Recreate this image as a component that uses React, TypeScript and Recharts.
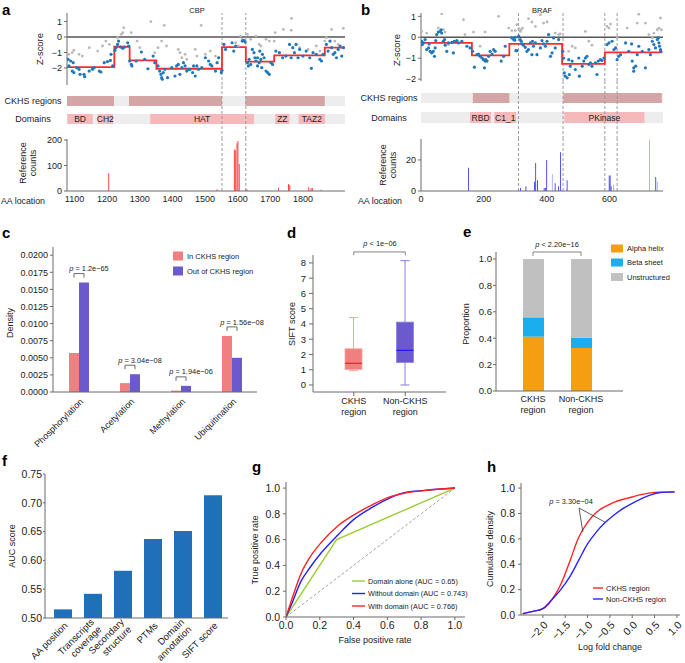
import React from "react";
import {
  ComposedChart,
  BarChart,
  LineChart,
  Scatter,
  Line,
  Bar,
  XAxis,
  YAxis,
  ReferenceLine,
  ReferenceArea,
  Cell,
  LabelList,
} from "recharts";

const FONT = "'Liberation Sans', Arial, Helvetica, sans-serif";
const AXIS = "#6b6b6b";
const INK = "#222";

// ---- a: CBP (AA position, z-score) ----
const cbpMutated: [number, number][] = [
  [1080, -1.44], [1088, -1.55], [1096, -1.66], [1083, -1.87], [1093, -2.2], [1098, -2.3], [1107, -1.98], [1114, -2.09], [1117, -2.41], [1129, -2.41], [1131, -2.56], [1145, -2.2], [1155, -2.09], [1160, -1.98], [1176, -2.2], [1181, -2.26], [1191, -1.66], [1201, -1.59], [1210, -1.51], [1212, -1.12], [1217, -1.87],
  [1224, -0.86], [1227, -0.69], [1232, -0.48], [1235, -0.26], [1241, -0.65], [1248, -0.73], [1253, -0.65], [1263, -0.37], [1266, -0.58],
  [1269, -1.55], [1274, -1.77], [1276, -1.87], [1289, -1.55], [1305, -0.97], [1315, -1.44], [1325, -2.05], [1341, -1.23], [1346, -1.66],
  [1356, -1.87], [1361, -2.2], [1365, -2.41], [1367, -2.63], [1369, -2.73], [1372, -2.3], [1377, -2.09], [1385, -2.63], [1398, -1.98], [1408, -2.52], [1413, -1.87], [1418, -1.77], [1423, -2.41], [1429, -1.98], [1434, -1.66], [1439, -1.87], [1444, -2.2], [1449, -2.09], [1454, -2.09], [1462, -2.3], [1465, -1.87], [1470, -2.52], [1475, -1.87], [1480, -2.09], [1490, -1.98], [1501, -1.34], [1511, -1.55], [1516, -1.77], [1521, -1.87], [1532, -2.2], [1537, -1.66], [1542, -1.34], [1550, -2.3], [1552, -2.15],
  [1558, -0.48], [1563, -0.8], [1583, -0.37], [1588, -0.91], [1594, -0.58], [1614, -0.26], [1619, -0.22], [1623, -0.32],
  [1630, -1.66], [1633, -1.87], [1635, -1.44], [1640, -1.77], [1645, -0.8], [1650, -1.01], [1653, -1.34], [1656, -1.55], [1661, -1.87], [1661, -1.34], [1666, -1.66], [1668, -0.91], [1671, -1.44], [1674, -1.98], [1676, -1.12], [1681, -1.34], [1687, -2.2], [1692, -2.3], [1697, -2.41], [1702, -1.66], [1707, -1.77],
  [1717, -0.91], [1728, -1.01], [1738, -1.34], [1748, -1.23], [1759, -0.48], [1764, -1.34], [1769, -0.69], [1774, -1.01], [1779, -0.48], [1785, -1.34], [1790, -0.8], [1800, -1.23], [1810, -0.91], [1821, -1.34], [1826, -2.02], [1831, -1.01], [1841, -1.12], [1852, -1.44], [1857, -1.55], [1862, -1.12],
  [1872, -0.48], [1877, -0.91], [1883, -0.26], [1888, -0.69], [1893, -1.12], [1898, -1.01], [1903, -1.34], [1908, -0.8], [1914, -0.58], [1919, -1.23], [1924, -0.69],
];
const cbpOther: [number, number][] = [
  [1083, -1.12], [1093, -1.01], [1098, -0.86], [1114, -1.12], [1124, -1.23], [1145, -0.69], [1171, -0.91], [1186, -0.58], [1196, -0.26], [1207, -0.48], [1232, -0.05], [1243, 0.17], [1248, 0.28], [1251, 0.6], [1274, 0.28], [1292, -0.26], [1300, -0.69], [1334, 0.99], [1346, -1.01], [1356, -0.69], [1367, -0.26], [1375, 0.75], [1382, -0.58], [1418, -0.8], [1423, -1.01], [1429, -1.34], [1439, -1.12], [1444, -1.44], [1470, -0.8], [1475, -1.23], [1488, 0.75], [1501, -1.12], [1516, -0.91], [1532, -1.23], [1542, -1.34], [1550, -2.2],
  [1594, -0.37], [1602, -0.58], [1609, 0.06], [1614, -0.15], [1630, 0.17], [1640, -0.15], [1656, 0.06], [1666, -0.48], [1671, -0.58], [1687, -0.15], [1697, -0.26], [1712, -0.26], [1715, 0.28], [1740, 0.49], [1765, 1.2], [1764, 0.43], [1779, -0.48], [1790, -0.69], [1816, -0.8], [1841, -0.58], [1852, -0.91], [1867, -0.26], [1872, -0.05], [1883, -0.26], [1888, 0.49], [1898, -0.26], [1908, -0.48], [1924, 0.56],
];
const cbpStepStart = [1077, 1222, 1269, 1351, 1552, 1625, 1712, 1867, 1929];
const cbpStepLevel = [-1.94, -0.63, -1.51, -2.05, -0.65, -1.59, -1.19, -0.69, -0.69];
const cbpCkhs: [number, number][] = [[1077, 1221], [1267, 1552], [1624, 1867]];
const cbpDomainNames = ["BD", "CH2", "HAT", "ZZ", "TAZ2"];
const cbpDomainSpans: [number, number][] = [[1078, 1156], [1171, 1218], [1332, 1650], [1715, 1759], [1787, 1868]];
const cbpBoundaries = [1552, 1625];
const cbpCounts: [number, number][] = [
  [1205, 70], [1537, 7], [1590, 163], [1593, 160], [1598, 187], [1601, 196], [1605, 106], [1626, 8], [1629, 5], [1725, 13], [1756, 27], [1760, 24], [1818, 15], [1825, 12], [1829, 12], [1856, 5],
];
const cbpTicks = [1100, 1200, 1300, 1400, 1500, 1600, 1700, 1800];

// ---- b: BRAF ----
const brafMutated: [number, number][] = [
  [2, -0.19], [4, -0.35], [8, -0.27], [13, -0.11], [18, -0.59], [24, -0.51], [26, -0.32], [29, -0.67], [34, -0.75], [39, -0.67], [43, -0.91], [45, -0.51], [47, -0.16], [50, 0.13], [55, 0.25], [61, 0.28], [64, 0.36], [66, 0.2], [71, -0.19], [75, -0.11], [77, -0.38], [82, -0.67], [87, -0.27], [98, -0.24], [103, -0.75], [106, -0.19], [114, -0.16], [119, -0.27], [130, -0.19], [146, -0.43], [156, -0.51],
  [164, -0.67], [170, -1.43], [178, -0.83], [183, -0.8], [188, -0.91], [194, -0.99], [199, -1.07], [202, -1.46], [204, -1.14], [206, -1.07], [210, -1.14], [215, -0.91], [220, -0.67], [226, -0.8], [231, -0.59], [236, -0.67], [255, -1.14], [263, -0.91], [268, -0.43],
  [289, -0.03], [295, -0.11], [298, -0.14], [300, 0.0], [302, -0.64], [305, -0.64], [311, 0.05], [316, -0.11], [319, -0.19], [321, -0.32], [326, -0.38], [332, -0.48], [337, -0.67], [342, -0.59], [348, -0.27], [353, -0.83], [355, -0.19], [358, -0.43], [364, -0.27], [369, -0.83], [380, -0.51], [385, -0.16], [390, -0.32], [396, -0.43], [401, -0.19], [406, 0.13], [412, -0.91], [417, -0.75], [422, -0.03], [427, -0.51], [438, -0.11],
  [451, -0.67], [454, -0.99], [456, -1.7], [459, -1.86], [465, -1.94], [470, -1.07], [472, -1.78], [475, -1.38], [481, -1.14], [491, -1.54], [502, -0.99], [504, -1.86], [513, -1.38], [518, -1.14], [523, -0.99], [528, -0.91], [534, -1.3], [539, -1.22], [544, -1.38], [555, -1.22], [560, -1.78], [564, -1.14], [571, -1.07], [576, -1.11], [582, -0.99],
  [592, -0.35], [598, -0.27], [608, -0.19], [614, -0.59], [619, -0.51], [624, -1.07], [629, -0.91], [635, -0.83], [651, -0.27], [661, -0.67], [670, -0.32], [672, -1.14], [677, -1.46], [677, -1.62], [683, -1.38], [688, -0.83], [693, -0.43], [704, -0.67], [714, -1.46], [725, -0.59], [730, -0.83], [736, -0.19], [741, -0.35], [746, -0.51], [752, -0.11], [755, -0.03], [757, -0.27], [759, -0.43], [762, -0.59], [763, -0.67],
];
const brafOther: [number, number][] = [
  [2, 0.28], [18, 0.2], [55, 0.44], [66, 1.12], [71, 0.36], [77, 0.25], [87, -0.35], [135, 0.84], [140, 0.13], [167, 0.25], [188, -0.43], [204, 0.25], [247, 1.0], [279, 0.44], [289, 0.32], [300, 0.32], [305, 0.6], [311, 0.41], [316, 0.28], [319, 0.36], [323, 0.44], [342, 0.89], [353, 0.73], [364, 0.52], [380, 1.08], [390, 0.68], [401, 0.73], [406, 0.13], [427, 0.2], [438, 0.13], [443, 0.16], [470, -0.67], [481, -0.43], [491, -0.51], [523, 0.28], [534, -0.19], [544, -0.38], [592, 0.52], [598, 0.44], [603, 0.63], [624, -0.03], [656, 0.44], [688, 0.68], [693, 1.1], [714, 0.68], [725, 0.13], [736, -0.03], [741, 0.2], [752, 0.36], [757, 0.44], [762, 0.92], [765, 0.36],
];
const brafStepStart = [0, 162, 281, 449, 585, 768];
const brafStepLevel = [-0.27, -0.87, -0.32, -1.27, -0.72, -0.72];
const brafCkhs: [number, number][] = [[165, 281], [453, 766]];
const brafDomainNames = ["RBD", "C1_1", "PKinase"];
const brafDomainSpans: [number, number][] = [[156, 223], [233, 303], [456, 711]];
const brafBoundaries = [310, 452, 585, 624];
const brafCounts: [number, number][] = [
  [151, 15], [317, 2], [334, 3], [361, 6], [365, 18], [371, 7], [392, 2], [396, 2], [400, 20], [418, 11], [427, 5], [438, 3], [444, 25], [465, 7], [599, 10], [602, 10], [605, 3], [613, 4], [727, 33], [747, 9], [752, 6],
];
const brafLightSites = [418, 613, 727, 752];
const brafTicks = [0, 200, 400, 600];

// ---- c: PTM density ----
const ptmTypes = ["Phosphorylation", "Acetylation", "Methylation", "Ubiquitination"];
const ptmIn = [0.0057, 0.0013, 0.0002, 0.0082];
const ptmOut = [0.016, 0.0026, 0.0009, 0.005];
const ptmP = ["1.2e\u221265", "3.04e\u221208", "1.94e\u221206", "1.56e\u221208"];

// ---- d: SIFT box plot ----
const regionGroups = ["CKHS region", "Non-CKHS region"];
const siftLow = [0.94, 0];
const siftQ1 = [1.02, 1.48];
const siftMedian = [1.42, 2.27];
const siftQ3 = [2.37, 4.12];
const siftHigh = [4.42, 8.15];

// ---- e: secondary structure ----
const alphaHelix = [0.412, 0.326];
const betaSheet = [0.146, 0.078];
const unstructured = [0.442, 0.596];

// ---- f: AUC per feature ----
const featureNames = ["AA position", "Transcripts\ncoverage", "Secondary\nstructure", "PTMs", "Domain\nannotation", "SIFT score"];
const featureAuc = [0.515, 0.542, 0.582, 0.637, 0.651, 0.713];

// ---- g: ROC ----
const fprModel = [0, 0.03, 0.09, 0.14, 0.21, 0.31, 0.4, 0.51, 0.61, 0.7, 0.82, 1];
const tprWithDomain = [0, 0.12, 0.34, 0.46, 0.58, 0.71, 0.79, 0.87, 0.93, 0.96, 0.98, 1];
const tprWithoutDomain = [0, 0.09, 0.28, 0.38, 0.5, 0.64, 0.755, 0.85, 0.92, 0.965, 0.982, 1];
const fprDomainOnly = [0, 0.3, 1];
const tprDomainOnly = [0, 0.6, 1];

// ---- h: CDF of log fold change ----
const logFc = [-2.45, -2.2, -2.0, -1.8, -1.6, -1.4, -1.2, -1.0, -0.8, -0.6, -0.4, -0.2, 0, 0.2, 0.4, 0.6, 0.95];
const cdfCkhs = [0.01, 0.03, 0.05, 0.12, 0.24, 0.42, 0.61, 0.73, 0.81, 0.855, 0.89, 0.912, 0.93, 0.948, 0.962, 0.968, 0.97];
const cdfNonCkhs = [0.01, 0.03, 0.05, 0.12, 0.2, 0.3, 0.43, 0.56, 0.655, 0.73, 0.79, 0.84, 0.88, 0.915, 0.945, 0.963, 0.97];

const MINUS = "\u2212";
const tk = (size: number) => ({ fontSize: size, fill: INK, fontFamily: FONT });
const num = (d: number) => (v: number) => Number(v).toFixed(d).replace("-", MINUS);
const toPts = (a: [number, number][]) => a.map(([aa, z]) => ({ aa, z }));
const dot = (color: string, r: number) => (p: any) => <circle cx={p.cx} cy={p.cy} r={r} fill={color} />;
const noShape = () => <g />;

const CKHS_DARK = "#d4a5a5";
const ROW_BG = "#ededed";
const DOMAIN_PINK = "#f5b8bb";

function GenePanel({ g }: { g: any }) {
  const margin = { top: 0, right: 2, bottom: 0, left: g.marginLeft };
  const xProps = { type: "number" as const, dataKey: "aa", domain: g.xDomain, allowDataOverflow: true };
  const dashed = g.boundaries.map((b: number) => (
    <ReferenceLine key={b} x={b} stroke="#9a9a9a" strokeDasharray="3 2" strokeWidth={1} />
  ));
  const step = g.stepStart.map((aa: number, i: number) => ({ aa, z: g.stepLevel[i] }));
  const rowH = g.rowBottom - g.zBottom;
  const rowTicks = [(g.ckhsRow[0] + g.ckhsRow[1]) / 2, (g.domainRow[0] + g.domainRow[1]) / 2];
  const rowNames = ["CKHS regions", "Domains"];
  const counts = g.counts.map(([aa, n]: [number, number]) => ({ aa, n }));
  const ends = [{ aa: g.xDomain[0], y: 0 }, { aa: g.xDomain[1], y: 0 }];
  const pad = 8;
  return (
    <>
      <div style={{ position: "absolute", left: g.left, top: 0 }}>
        <ComposedChart width={g.width} height={g.zBottom + pad} margin={{ ...margin, top: 13, bottom: pad }}>
          <XAxis {...xProps} hide />
          <YAxis type="number" domain={g.zDomain} ticks={[-2, -1, 0, 1]} width={g.yWidth} tickSize={3} tickMargin={2}
            interval={0} tick={tk(9)} tickFormatter={num(0)} stroke={AXIS} allowDataOverflow />
          <ReferenceLine y={0} stroke="#555" strokeWidth={1.3} />
          {dashed}
          <Scatter data={toPts(g.other)} dataKey="z" shape={dot("#b8b8b8", 1.4)} isAnimationActive={false} />
          <Scatter data={toPts(g.mutated)} dataKey="z" shape={dot("#2277bb", 1.6)} isAnimationActive={false} />
          <Line data={step} dataKey="z" type="stepAfter" stroke="#ff2b2b" strokeWidth={1.8} dot={false} isAnimationActive={false} />
        </ComposedChart>
      </div>
      <div style={{ position: "absolute", left: g.left, top: g.zBottom }}>
        <ComposedChart width={g.width} height={rowH} data={ends} margin={{ ...margin, left: 0 }}>
          <XAxis {...xProps} hide />
          <YAxis type="number" dataKey="y" domain={[0, rowH]} ticks={rowTicks} width={g.marginLeft + g.yWidth}
            interval={0} axisLine={false} tickLine={false} allowDataOverflow
            tick={(p: any) => (
              <text x={g.rowLabelX} y={p.y} dy="0.35em" textAnchor="middle" {...tk(9)}>
                {rowNames[rowTicks.indexOf(p.payload.value)]}
              </text>
            )} />
          <Scatter data={ends} dataKey="y" shape={noShape} isAnimationActive={false} />
          <ReferenceArea x1={g.xDomain[0]} x2={g.xDomain[1]} y1={g.ckhsRow[0]} y2={g.ckhsRow[1]} fill={ROW_BG} fillOpacity={1} stroke="none" />
          <ReferenceArea x1={g.xDomain[0]} x2={g.xDomain[1]} y1={g.domainRow[0]} y2={g.domainRow[1]} fill={ROW_BG} fillOpacity={1} stroke="none" />
          {g.ckhs.map(([s, e]: [number, number]) => (
            <ReferenceArea key={s} x1={s} x2={e} y1={g.ckhsRow[0]} y2={g.ckhsRow[1]} fill={CKHS_DARK} fillOpacity={1} stroke="none" />
          ))}
          {g.domainSpans.map(([s, e]: [number, number], i: number) => (
            <ReferenceArea key={s} x1={s} x2={e} y1={g.domainRow[0]} y2={g.domainRow[1]} fill={DOMAIN_PINK} fillOpacity={1} stroke="none"
              label={{ value: g.domainNames[i], position: "center", ...tk(8.5) }} />
          ))}
          {dashed}
        </ComposedChart>
      </div>
      <div style={{ position: "absolute", left: g.left, top: g.rowBottom - pad }}>
        <ComposedChart width={g.width} height={70 + pad} data={counts} margin={{ ...margin, top: pad }}>
          <XAxis {...xProps} ticks={g.xTicks} interval={0} tickLine={false} tickSize={3} tickMargin={2} height={18} tick={tk(9)} stroke={AXIS} />
          <YAxis type="number" domain={g.countDomain} ticks={g.countTicks} interval={0} width={g.yWidth} tickSize={3} tickMargin={2}
            tick={tk(9)} stroke={AXIS} allowDataOverflow />
          {dashed}
          <Bar dataKey="n" barSize={2} isAnimationActive={false}>
            {counts.map((c: any, i: number) => (
              <Cell key={i} fill={g.lightSites.includes(c.aa) ? g.lightColor : g.barColor} />
            ))}
          </Bar>
        </ComposedChart>
      </div>
    </>
  );
}

const cbpGene = {
  left: 0, width: 347, marginLeft: 30, yWidth: 37,
  xDomain: [1077, 1929], xTicks: cbpTicks, zDomain: [-3.1, 1.55], zBottom: 85,
  rowBottom: 139, ckhsRow: [33, 43], domainRow: [15, 25], rowLabelX: 33,
  countDomain: [0, 204], countTicks: [0, 100, 200],
  mutated: cbpMutated, other: cbpOther, stepStart: cbpStepStart, stepLevel: cbpStepLevel,
  ckhs: cbpCkhs, domainNames: cbpDomainNames, domainSpans: cbpDomainSpans, boundaries: cbpBoundaries,
  counts: cbpCounts, lightSites: [], barColor: "#ff2e2e", lightColor: "#ff9090",
};
const brafGene = {
  left: 345, width: 320, marginLeft: 46, yWidth: 30,
  xDomain: [0, 770], xTicks: brafTicks, zDomain: [-2.09, 1.16], zBottom: 81,
  rowBottom: 139, ckhsRow: [36, 46], domainRow: [16, 27], rowLabelX: 44,
  countDomain: [0, 33.5], countTicks: [0, 20],
  mutated: brafMutated, other: brafOther, stepStart: brafStepStart, stepLevel: brafStepLevel,
  ckhs: brafCkhs, domainNames: brafDomainNames, domainSpans: brafDomainSpans, boundaries: brafBoundaries,
  counts: brafCounts, lightSites: brafLightSites, barColor: "#3434ff", lightColor: "#a4a4ff",
};

const RotTick = (props: any) => {
  const { x, y, payload, size, format, ox = 3, oy = 3 } = props;
  const text = format ? format(payload.value) : String(payload.value);
  const lines = text.split("\n");
  const n = lines.length;
  return (
    <g transform={`translate(${x + ox},${y + oy}) rotate(-45)`}>
      <text textAnchor="end" {...tk(size)}>
        {lines.map((l: string, i: number) => (
          <tspan key={i} x={0} y={0} dy={`${0.35 + (i - (n - 1) / 2) * 1.1}em`}>{l}</tspan>
        ))}
      </text>
    </g>
  );
};

const TwoLineTick = (props: any) => {
  const { x, y, payload } = props;
  const lines = String(payload.value).split(" ");
  return (
    <text x={x} y={y} textAnchor="middle" {...tk(9)}>
      {lines.map((l, i) => (
        <tspan key={i} x={x} dy={i === 0 ? "0.71em" : "1.2em"}>{l}</tspan>
      ))}
    </text>
  );
};

const PColor = { inside: "#f08080", outside: "#6a5acd" };

const ptmTable = ptmTypes.map((t, i) => ({ type: t, inside: ptmIn[i], outside: ptmOut[i], p: ptmP[i] }));

const PBracket = (props: any) => {
  const vb = props.viewBox && props.viewBox.width !== undefined ? props.viewBox : props;
  const { x, y, width, height } = vb;
  const row = ptmTable[props.index];
  const base = y + height;
  const inTop = base - (height * row.inside) / row.outside;
  const top = Math.min(y, inTop);
  const by = top - 9;
  const c1 = x - width / 2;
  const c2 = x + width / 2;
  return (
    <g>
      <path d={`M${c1},${by + 4}V${by}H${c2}V${by + 4}`} stroke="#444" strokeWidth={0.8} fill="none" />
      <text x={(c1 + c2) / 2 + 10} y={by - 5} dy="0.35em" textAnchor="middle" {...tk(7.4)}>
        <tspan fontStyle="italic">p</tspan>{" = " + props.value}
      </text>
    </g>
  );
};

const boxTable = regionGroups.map((group, i) => ({
  group, range: [siftLow[i], siftHigh[i]], low: siftLow[i], q1: siftQ1[i], med: siftMedian[i], q3: siftQ3[i], high: siftHigh[i],
}));
const boxStyle = [
  { fill: "#f08080", edge: "#f4a4a4", median: "#ff1a1a" },
  { fill: "#6a5acd", edge: "#8a7ee2", median: "#1a1aff" },
];

const BoxShape = (props: any) => {
  const { x, y, width, height, payload } = props;
  const { low, q1, med, q3, high, group } = payload;
  const s = boxStyle[regionGroups.indexOf(group)];
  const py = (v: number) => y + (height * (high - v)) / (high - low);
  const cx = x + width / 2;
  const cap = 4.5;
  return (
    <g>
      <line x1={cx} x2={cx} y1={py(high)} y2={py(q3)} stroke={s.edge} strokeWidth={1} />
      <line x1={cx} x2={cx} y1={py(q1)} y2={py(low)} stroke={s.edge} strokeWidth={1} />
      <line x1={cx - cap} x2={cx + cap} y1={py(high)} y2={py(high)} stroke={s.edge} strokeWidth={1} />
      <line x1={cx - cap} x2={cx + cap} y1={py(low)} y2={py(low)} stroke={s.edge} strokeWidth={1} />
      <rect x={x} y={py(q3)} width={width} height={py(q1) - py(q3)} fill={s.fill} stroke={s.edge} strokeWidth={0.8} />
      <line x1={x} x2={x + width} y1={py(med)} y2={py(med)} stroke={s.median} strokeWidth={1.2} />
    </g>
  );
};

const ssTable = regionGroups.map((group, i) => ({ group, alpha: alphaHelix[i], beta: betaSheet[i], unstructured: unstructured[i] }));
const SS = { alpha: "#f59e10", beta: "#1aaeee", unstructured: "#c0c0c0" };

const aucTable = featureNames.map((f, i) => ({ feature: f, auc: featureAuc[i] }));

const rocWith = fprModel.map((f, i) => ({ fpr: f, tpr: tprWithDomain[i] }));
const rocWithout = fprModel.map((f, i) => ({ fpr: f, tpr: tprWithoutDomain[i] }));
const rocDomain = fprDomainOnly.map((f, i) => ({ fpr: f, tpr: tprDomainOnly[i] }));
const ROC = { domain: "#9acd32", without: "#2020ff", with: "#ff2020" };

const cdfRed = logFc.map((v, i) => ({ lfc: v, cdf: cdfCkhs[i] }));
const cdfBlue = logFc.map((v, i) => ({ lfc: v, cdf: cdfNonCkhs[i] }));

const Abs = ({ left, top, children }: any) => <div style={{ position: "absolute", left, top }}>{children}</div>;

const VText = ({ x, y, children, size = 9 }: any) => (
  <text transform={`translate(${x},${y}) rotate(-90)`} textAnchor="middle" dy="0.35em" {...tk(size)}>{children}</text>
);
const HText = ({ x, y, children, size = 9, anchor = "middle" }: any) => (
  <text x={x} y={y} dy="0.35em" textAnchor={anchor} {...tk(size)}>{children}</text>
);
const P = () => <tspan fontStyle="italic">p</tspan>;

export default function App() {
  const letters: [string, number, number][] = [
    ["a", 2, 15], ["b", 361, 15], ["c", 2, 238], ["d", 287, 238], ["e", 463, 237], ["f", 2, 466], ["g", 252, 472], ["h", 487, 472],
  ];
  return (
    <div style={{ position: "absolute", left: 0, top: 0, width: 685, height: 663, background: "#fff", fontFamily: FONT, overflow: "hidden" }}>
      <GenePanel g={cbpGene} />
      <GenePanel g={brafGene} />

      {/* c */}
      <Abs left={0} top={240}>
        <BarChart width={290} height={222} data={ptmTable} margin={{ top: 7, right: 33, bottom: 0, left: 0 }} barGap={0} barSize={10}>
          <XAxis dataKey="type" interval={0} tickLine={false} tickSize={3} tickMargin={2} height={70} stroke={AXIS}
            tick={(p: any) => <RotTick {...p} size={9} />} />
          <YAxis domain={[0, 0.0212]} ticks={[0, 0.0025, 0.005, 0.0075, 0.01, 0.0125, 0.015, 0.0175, 0.02]} width={53}
            interval={0} tickSize={3} tickMargin={2} tick={tk(9)} tickFormatter={num(4)} stroke={AXIS} allowDataOverflow />
          <Bar dataKey="inside" fill={PColor.inside} isAnimationActive={false} />
          <Bar dataKey="outside" fill={PColor.outside} isAnimationActive={false}>
            <LabelList dataKey="p" content={(p: any) => <PBracket {...p} />} />
          </Bar>
        </BarChart>
      </Abs>

      {/* d */}
      <Abs left={270} top={240}>
        <ComposedChart width={181} height={182} data={boxTable} margin={{ top: 15, right: 5, bottom: 0, left: 13 }}>
          <XAxis dataKey="group" interval={0} tickSize={4} tickMargin={2} height={30} padding={{ left: 15, right: 15 }}
            stroke={AXIS} tick={(p: any) => <TwoLineTick {...p} />} />
          <YAxis domain={[-0.46, 8.52]} ticks={[0, 1, 2, 3, 4, 5, 6, 7, 8]} interval={0} width={30} tickSize={4} tickMargin={3}
            tick={tk(9.5)} stroke={AXIS} allowDataOverflow />
          <Bar dataKey="range" barSize={17} shape={(p: any) => <BoxShape {...p} />} isAnimationActive={false} />
          <ReferenceLine segment={[{ x: regionGroups[0], y: 8.72 }, { x: regionGroups[1], y: 8.72 }]} stroke="#666" strokeWidth={0.8} ifOverflow="visible" />
          <ReferenceLine segment={[{ x: regionGroups[0], y: 8.5 }, { x: regionGroups[0], y: 8.72 }]} stroke="#666" strokeWidth={0.8} ifOverflow="visible" />
          <ReferenceLine segment={[{ x: regionGroups[1], y: 8.5 }, { x: regionGroups[1], y: 8.72 }]} stroke="#666" strokeWidth={0.8} ifOverflow="visible" />
        </ComposedChart>
      </Abs>

      {/* e */}
      <Abs left={450} top={240}>
        <BarChart width={175} height={181} data={ssTable} margin={{ top: 12, right: 2, bottom: 0, left: 16 }} barSize={21}>
          <XAxis dataKey="group" interval={0} tickLine={false} tickSize={3} tickMargin={2} height={30} padding={{ left: 13, right: 18 }}
            stroke={AXIS} tick={(p: any) => <TwoLineTick {...p} />} />
          <YAxis domain={[0, 1.053]} ticks={[0, 0.2, 0.4, 0.6, 0.8, 1]} interval={0} width={30} tickSize={3} tickMargin={1}
            tick={tk(9.5)} tickFormatter={num(1)} stroke={AXIS} allowDataOverflow />
          <Bar dataKey="alpha" stackId="s" fill={SS.alpha} isAnimationActive={false} />
          <Bar dataKey="beta" stackId="s" fill={SS.beta} isAnimationActive={false} />
          <Bar dataKey="unstructured" stackId="s" fill={SS.unstructured} isAnimationActive={false} />
          <ReferenceLine segment={[{ x: regionGroups[0], y: 1.053 }, { x: regionGroups[1], y: 1.053 }]} stroke="#666" strokeWidth={0.8} ifOverflow="visible" />
          <ReferenceLine segment={[{ x: regionGroups[0], y: 1.023 }, { x: regionGroups[0], y: 1.053 }]} stroke="#666" strokeWidth={0.8} ifOverflow="visible" />
          <ReferenceLine segment={[{ x: regionGroups[1], y: 1.023 }, { x: regionGroups[1], y: 1.053 }]} stroke="#666" strokeWidth={0.8} ifOverflow="visible" />
        </BarChart>
      </Abs>

      {/* f */}
      <Abs left={0} top={455}>
        <BarChart width={232} height={208} data={aucTable} margin={{ top: 19, right: 4, bottom: 0, left: 0 }} barSize={18}>
          <XAxis dataKey="feature" interval={0} tickLine={false} tickSize={0} tickMargin={4} height={45} padding={{ left: 3, right: 0 }}
            stroke={AXIS} tick={(p: any) => <RotTick {...p} size={9.5} ox={3} oy={2} />} />
          <YAxis domain={[0.5, 0.75]} ticks={[0.5, 0.55, 0.6, 0.65, 0.7, 0.75]} interval={0} width={45} tickSize={2} tickMargin={1}
            tick={tk(10.5)} tickFormatter={num(2)} stroke={AXIS} allowDataOverflow />
          <Bar dataKey="auc" fill="#1f70b8" isAnimationActive={false} />
        </BarChart>
      </Abs>

      {/* g */}
      <Abs left={230} top={455}>
        <LineChart width={240} height={184} margin={{ top: 27, right: 5, bottom: 0, left: 20 }}>
          <XAxis type="number" dataKey="fpr" domain={[0, 1.06]} ticks={[0, 0.2, 0.4, 0.6, 0.8, 1]} tickFormatter={num(1)}
            interval={0} tickSize={3} tickMargin={2} height={22} tick={tk(10.5)} stroke={AXIS} allowDataOverflow />
          <YAxis type="number" domain={[0, 1.047]} ticks={[0, 0.2, 0.4, 0.6, 0.8, 1]} tickFormatter={num(1)}
            interval={0} width={36} tickSize={3} tickMargin={3} tick={tk(10.5)} stroke={AXIS} allowDataOverflow />
          <ReferenceLine segment={[{ x: 0, y: 0 }, { x: 1, y: 1 }]} stroke="#9a9a9a" strokeDasharray="3 2" strokeWidth={0.9} />
          <Line data={rocDomain} dataKey="tpr" stroke={ROC.domain} strokeWidth={1.4} dot={false} isAnimationActive={false} />
          <Line data={rocWithout} dataKey="tpr" stroke={ROC.without} strokeWidth={1.4} dot={false} type="monotone" isAnimationActive={false} />
          <Line data={rocWith} dataKey="tpr" stroke={ROC.with} strokeWidth={1.4} dot={false} type="monotone" isAnimationActive={false} />
        </LineChart>
      </Abs>

      {/* h */}
      <Abs left={465} top={455}>
        <LineChart width={220} height={200} margin={{ top: 28, right: 5, bottom: 0, left: 20 }}>
          <XAxis type="number" dataKey="lfc" domain={[-2.49, 1.07]} ticks={[-2, -1.5, -1, -0.5, 0, 0.5, 1]}
            interval={0} tickSize={3} tickMargin={2} height={40} stroke={AXIS} allowDataOverflow
            tick={(p: any) => <RotTick {...p} size={10.5} format={num(1)} ox={3} oy={3} />} />
          <YAxis type="number" domain={[0, 1.04]} ticks={[0, 0.2, 0.4, 0.6, 0.8, 1]} tickFormatter={num(1)}
            interval={0} width={36} tickSize={3} tickMargin={3} tick={tk(10.5)} stroke={AXIS} allowDataOverflow />
          <Line data={cdfRed} dataKey="cdf" stroke="#ff2424" strokeWidth={1.4} dot={false} type="monotone" isAnimationActive={false} />
          <Line data={cdfBlue} dataKey="cdf" stroke="#2626ff" strokeWidth={1.4} dot={false} type="monotone" isAnimationActive={false} />
          <ReferenceLine segment={[{ x: -1.19, y: 0.843 }, { x: -1.105, y: 0.654 }]} stroke="#333" strokeWidth={0.8} />
          <ReferenceLine segment={[{ x: -1.19, y: 0.843 }, { x: -0.612, y: 0.732 }]} stroke="#333" strokeWidth={0.8} />
        </LineChart>
      </Abs>

      {/* text overlay */}
      <svg width={685} height={663} style={{ position: "absolute", left: 0, top: 0, pointerEvents: "none", overflow: "visible" }}>
        {letters.map(([l, x, y]) => (
          <text key={l} x={x} y={y} fontSize={15} fontWeight="bold" fontFamily={FONT} fill="#000">{l}</text>
        ))}
        <HText x={197} y={10} size={7.5}>CBP</HText>
        <HText x={542} y={10} size={7.5}>BRAF</HText>
        <VText x={40} y={49} size={9.4}>Z-score</VText>
        <VText x={397} y={50} size={9.4}>Z-score</VText>
        <VText x={23} y={163}>Reference</VText>
        <VText x={33} y={163}>counts</VText>
        <VText x={383} y={165}>Reference</VText>
        <VText x={393} y={165}>counts</VText>
        <HText x={45} y={201} anchor="end" size={8.8}>AA location</HText>
        <HText x={402} y={201} anchor="end" size={8.8}>AA location</HText>

        <VText x={10} y={323}>Density</VText>
        <rect x={173} y={251.5} width={10} height={9} fill={PColor.inside} />
        <HText x={187} y={256} anchor="start" size={7.5}>In CKHS region</HText>
        <rect x={173} y={266.5} width={10} height={9} fill={PColor.outside} />
        <HText x={187} y={271} anchor="start" size={7.5}>Out of CKHS region</HText>

        <VText x={292} y={324}>SIFT score</VText>
        <HText x={380} y={243} size={7.4}><P />{" < 1e" + MINUS + "06"}</HText>

        <VText x={466} y={324}>Proportion</VText>
        <HText x={557} y={244} size={7.4}><P />{" < 2.20e" + MINUS + "16"}</HText>
        <rect x={611} y={244.5} width={12} height={8} fill={SS.alpha} />
        <HText x={627} y={248.5} anchor="start" size={7.5}>Alpha helix</HText>
        <rect x={611} y={258.5} width={12} height={8} fill={SS.beta} />
        <HText x={627} y={262.5} anchor="start" size={7.5}>Beta sheet</HText>
        <rect x={611} y={273} width={12} height={8} fill={SS.unstructured} />
        <HText x={627} y={277} anchor="start" size={7.5}>Unstructured</HText>

        <VText x={12} y={546}>AUC score</VText>

        <VText x={255} y={550}>True positive rate</VText>
        <HText x={375} y={640}>False positive rate</HText>
        <line x1={352} x2={365} y1={581} y2={581} stroke={ROC.domain} strokeWidth={1.4} />
        <HText x={368} y={581} anchor="start" size={7.3}>Domain alone (AUC = 0.65)</HText>
        <line x1={352} x2={365} y1={593.5} y2={593.5} stroke={ROC.without} strokeWidth={1.4} />
        <HText x={368} y={593.5} anchor="start" size={7.3}>Without domain (AUC = 0.743)</HText>
        <line x1={352} x2={365} y1={606} y2={606} stroke={ROC.with} strokeWidth={1.4} />
        <HText x={368} y={606} anchor="start" size={7.3}>With domain (AUC = 0.766)</HText>

        <VText x={490} y={549}>Cumulative density</VText>
        <HText x={610} y={647}>Log fold change</HText>
        <HText x={571} y={501} size={7.4}><P />{" = 3.30e" + MINUS + "04"}</HText>
        <line x1={593} x2={603} y1={588} y2={588} stroke="#ff2424" strokeWidth={1.4} />
        <HText x={606} y={588} anchor="start" size={7.5}>CKHS region</HText>
        <line x1={593} x2={603} y1={599} y2={599} stroke="#2626ff" strokeWidth={1.4} />
        <HText x={606} y={599} anchor="start" size={7.5}>Non-CKHS region</HText>
      </svg>
    </div>
  );
}
